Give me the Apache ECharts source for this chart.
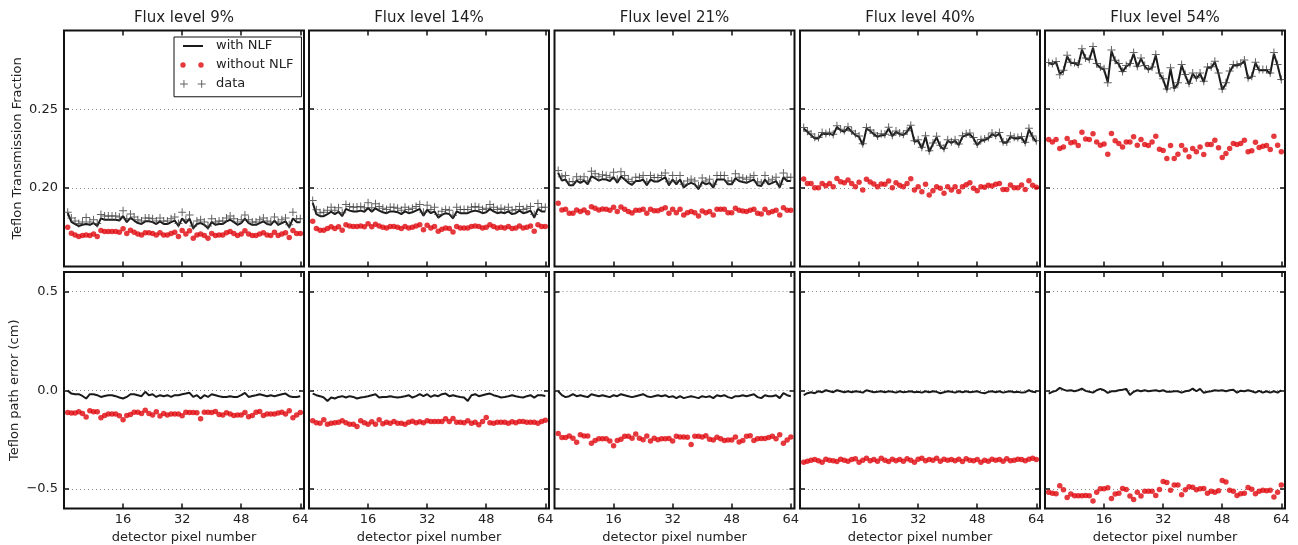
<!DOCTYPE html>
<html>
<head>
<meta charset="utf-8">
<script src="https://cdn.jsdelivr.net/npm/echarts@6/dist/echarts.min.js"></script>
<style>
html,body{margin:0;padding:0;background:#fff;}
#chart{width:1298px;height:545px;}
</style>
</head>
<body>
<div id="chart"></div>
<script>
// Column titles and tick positions
const fluxTitles = ['Flux level 9%', 'Flux level 14%', 'Flux level 21%', 'Flux level 40%', 'Flux level 54%'];
const pixelTicks = [16, 32, 48, 64];
const transTicks = [0.20, 0.25];
const errTicks = [-0.5, 0, 0.5];

// Teflon transmission fraction per detector pixel (pixels 1..64)
const transWithNLF9 = [0.1840,0.1784,0.1770,0.1757,0.1765,0.1770,0.1765,0.1776,0.1757,0.1806,
  0.1797,0.1797,0.1797,0.1797,0.1792,0.1821,0.1782,0.1809,0.1792,0.1776,
  0.1770,0.1787,0.1787,0.1782,0.1770,0.1787,0.1770,0.1770,0.1782,0.1792,
  0.1757,0.1806,0.1776,0.1804,0.1743,0.1770,0.1776,0.1765,0.1743,0.1782,
  0.1765,0.1770,0.1770,0.1787,0.1797,0.1782,0.1765,0.1776,0.1804,0.1776,
  0.1765,0.1765,0.1776,0.1787,0.1770,0.1765,0.1792,0.1765,0.1776,0.1787,
  0.1749,0.1806,0.1782,0.1782];
const transWithoutNLF9 = [0.1750,0.1712,0.1701,0.1691,0.1697,0.1701,0.1697,0.1706,0.1691,0.1729,
  0.1722,0.1722,0.1722,0.1722,0.1718,0.1740,0.1710,0.1731,0.1718,0.1706,
  0.1701,0.1714,0.1714,0.1710,0.1701,0.1714,0.1701,0.1701,0.1710,0.1718,
  0.1691,0.1729,0.1706,0.1727,0.1680,0.1701,0.1706,0.1697,0.1680,0.1710,
  0.1697,0.1701,0.1701,0.1714,0.1722,0.1710,0.1697,0.1706,0.1727,0.1706,
  0.1697,0.1697,0.1706,0.1714,0.1701,0.1697,0.1718,0.1697,0.1706,0.1714,
  0.1685,0.1729,0.1710,0.1710];
const transData9 = [0.1845,0.1808,0.1789,0.1774,0.1783,0.1812,0.1783,0.1797,0.1774,0.1831,
  0.1821,0.1821,0.1821,0.1821,0.1815,0.1855,0.1803,0.1834,0.1815,0.1797,
  0.1789,0.1809,0.1809,0.1803,0.1789,0.1809,0.1789,0.1789,0.1803,0.1815,
  0.1774,0.1845,0.1797,0.1828,0.1758,0.1789,0.1797,0.1783,0.1758,0.1803,
  0.1783,0.1789,0.1789,0.1809,0.1821,0.1803,0.1783,0.1797,0.1828,0.1797,
  0.1783,0.1783,0.1797,0.1809,0.1789,0.1783,0.1815,0.1783,0.1797,0.1809,
  0.1765,0.1845,0.1803,0.1803];

const transWithNLF14 = [0.1905,0.1833,0.1820,0.1820,0.1833,0.1848,0.1833,0.1848,0.1820,0.1866,
  0.1855,0.1850,0.1850,0.1855,0.1848,0.1872,0.1848,0.1870,0.1855,0.1845,
  0.1839,0.1850,0.1850,0.1845,0.1833,0.1850,0.1839,0.1845,0.1855,0.1866,
  0.1823,0.1861,0.1839,0.1850,0.1811,0.1828,0.1839,0.1833,0.1806,0.1850,
  0.1839,0.1839,0.1839,0.1850,0.1855,0.1850,0.1839,0.1845,0.1866,0.1850,
  0.1839,0.1845,0.1839,0.1850,0.1833,0.1839,0.1855,0.1839,0.1845,0.1855,
  0.1811,0.1866,0.1850,0.1850];
const transWithoutNLF14 = [0.1788,0.1741,0.1731,0.1731,0.1741,0.1752,0.1741,0.1752,0.1731,0.1766,
  0.1758,0.1754,0.1754,0.1758,0.1752,0.1771,0.1752,0.1769,0.1758,0.1750,
  0.1745,0.1754,0.1754,0.1750,0.1741,0.1754,0.1745,0.1750,0.1758,0.1766,
  0.1733,0.1762,0.1745,0.1754,0.1724,0.1737,0.1745,0.1741,0.1720,0.1754,
  0.1745,0.1745,0.1745,0.1754,0.1758,0.1754,0.1745,0.1750,0.1766,0.1754,
  0.1745,0.1750,0.1745,0.1754,0.1741,0.1745,0.1758,0.1745,0.1750,0.1758,
  0.1724,0.1766,0.1754,0.1754];
const transData14 = [0.1920,0.1860,0.1842,0.1845,0.1857,0.1876,0.1857,0.1873,0.1842,0.1894,
  0.1882,0.1876,0.1878,0.1882,0.1873,0.1905,0.1873,0.1899,0.1882,0.1870,
  0.1863,0.1876,0.1876,0.1870,0.1857,0.1876,0.1863,0.1870,0.1882,0.1894,
  0.1845,0.1890,0.1863,0.1876,0.1831,0.1851,0.1863,0.1857,0.1825,0.1876,
  0.1863,0.1863,0.1863,0.1876,0.1882,0.1876,0.1863,0.1870,0.1894,0.1876,
  0.1863,0.1870,0.1863,0.1876,0.1857,0.1863,0.1882,0.1863,0.1870,0.1882,
  0.1831,0.1900,0.1876,0.1876];

const transWithNLF21 = [0.2095,0.2046,0.2053,0.2016,0.2016,0.2046,0.2032,0.2046,0.2022,0.2075,
  0.2061,0.2046,0.2055,0.2053,0.2043,0.2069,0.2032,0.2072,0.2053,0.2032,
  0.2019,0.2043,0.2043,0.2053,0.2016,0.2053,0.2040,0.2040,0.2053,0.2067,
  0.2016,0.2053,0.2022,0.2053,0.2002,0.2022,0.2032,0.2022,0.1992,0.2037,
  0.2022,0.2032,0.2002,0.2053,0.2053,0.2053,0.2022,0.2022,0.2061,0.2043,
  0.2037,0.2032,0.2043,0.2053,0.2016,0.2011,0.2053,0.2022,0.2032,0.2043,
  0.2002,0.2067,0.2043,0.2043];
const transWithoutNLF21 = [0.1902,0.1859,0.1864,0.1838,0.1838,0.1859,0.1849,0.1859,0.1842,0.1880,
  0.1870,0.1859,0.1866,0.1864,0.1857,0.1876,0.1849,0.1878,0.1864,0.1849,
  0.1840,0.1857,0.1857,0.1864,0.1838,0.1864,0.1855,0.1855,0.1864,0.1874,
  0.1838,0.1864,0.1842,0.1864,0.1828,0.1842,0.1849,0.1842,0.1821,0.1853,
  0.1842,0.1849,0.1828,0.1864,0.1864,0.1864,0.1842,0.1842,0.1870,0.1857,
  0.1853,0.1849,0.1857,0.1864,0.1838,0.1834,0.1864,0.1842,0.1849,0.1857,
  0.1828,0.1874,0.1857,0.1857];
const transData21 = [0.2110,0.2071,0.2079,0.2038,0.2040,0.2071,0.2055,0.2071,0.2044,0.2105,
  0.2089,0.2071,0.2083,0.2079,0.2068,0.2099,0.2055,0.2102,0.2079,0.2055,
  0.2041,0.2068,0.2068,0.2079,0.2038,0.2079,0.2065,0.2065,0.2079,0.2095,
  0.2038,0.2079,0.2044,0.2079,0.2022,0.2044,0.2055,0.2044,0.2011,0.2062,
  0.2044,0.2055,0.2022,0.2079,0.2079,0.2079,0.2044,0.2044,0.2089,0.2068,
  0.2062,0.2055,0.2068,0.2079,0.2038,0.2031,0.2079,0.2044,0.2055,0.2068,
  0.2022,0.2095,0.2068,0.2068];

const transWithNLF40 = [0.2377,0.2356,0.2335,0.2314,0.2314,0.2345,0.2341,0.2345,0.2335,0.2387,
  0.2366,0.2356,0.2383,0.2356,0.2335,0.2324,0.2271,0.2377,0.2362,0.2341,
  0.2324,0.2335,0.2335,0.2377,0.2328,0.2356,0.2341,0.2335,0.2356,0.2392,
  0.2292,0.2299,0.2250,0.2324,0.2229,0.2278,0.2320,0.2264,0.2244,0.2299,
  0.2286,0.2299,0.2271,0.2324,0.2335,0.2341,0.2314,0.2271,0.2299,0.2303,
  0.2314,0.2341,0.2328,0.2345,0.2286,0.2286,0.2324,0.2314,0.2314,0.2320,
  0.2282,0.2371,0.2324,0.2292];
const transWithoutNLF40 = [0.2056,0.2028,0.2028,0.2001,0.2001,0.2028,0.2014,0.2028,0.2007,0.2060,
  0.2039,0.2033,0.2049,0.2028,0.2007,0.2035,0.1986,0.2054,0.2037,0.2024,
  0.2007,0.2024,0.2022,0.2043,0.2001,0.2033,0.2016,0.2007,0.2028,0.2058,
  0.1986,0.2007,0.1975,0.2022,0.1954,0.1982,0.2007,0.1997,0.1965,0.2007,
  0.1986,0.2007,0.1977,0.2007,0.2020,0.2033,0.1997,0.1982,0.2007,0.2003,
  0.2016,0.2012,0.2022,0.2028,0.1990,0.1990,0.2018,0.2001,0.2001,0.2018,
  0.1990,0.2045,0.2016,0.2003];
const transData40 = [0.2384,0.2360,0.2342,0.2322,0.2320,0.2352,0.2346,0.2353,0.2340,0.2395,
  0.2372,0.2364,0.2388,0.2362,0.2344,0.2330,0.2280,0.2384,0.2368,0.2348,
  0.2330,0.2343,0.2340,0.2385,0.2335,0.2362,0.2349,0.2341,0.2363,0.2398,
  0.2300,0.2306,0.2258,0.2331,0.2236,0.2285,0.2328,0.2270,0.2252,0.2306,
  0.2293,0.2306,0.2278,0.2331,0.2343,0.2348,0.2320,0.2279,0.2307,0.2310,
  0.2320,0.2349,0.2335,0.2352,0.2293,0.2292,0.2331,0.2321,0.2320,0.2327,
  0.2290,0.2379,0.2330,0.2300];

const transWithNLF54 = [0.2793,0.2785,0.2799,0.2725,0.2742,0.2835,0.2793,0.2793,0.2778,0.2878,
  0.2821,0.2814,0.2890,0.2785,0.2763,0.2751,0.2672,0.2869,0.2806,0.2785,
  0.2736,0.2772,0.2785,0.2852,0.2767,0.2821,0.2772,0.2751,0.2763,0.2842,
  0.2725,0.2688,0.2620,0.2757,0.2630,0.2662,0.2778,0.2715,0.2658,0.2725,
  0.2694,0.2725,0.2672,0.2763,0.2763,0.2799,0.2725,0.2624,0.2662,0.2736,
  0.2778,0.2778,0.2785,0.2806,0.2694,0.2704,0.2793,0.2747,0.2747,0.2747,
  0.2725,0.2852,0.2778,0.2683];
const transWithoutNLF54 = [0.2307,0.2292,0.2307,0.2250,0.2260,0.2313,0.2286,0.2292,0.2269,0.2354,
  0.2311,0.2307,0.2343,0.2292,0.2271,0.2278,0.2214,0.2345,0.2299,0.2282,
  0.2260,0.2292,0.2292,0.2324,0.2271,0.2307,0.2276,0.2269,0.2292,0.2328,
  0.2246,0.2238,0.2187,0.2269,0.2187,0.2214,0.2269,0.2240,0.2197,0.2250,
  0.2229,0.2260,0.2212,0.2276,0.2276,0.2303,0.2254,0.2193,0.2218,0.2250,
  0.2282,0.2276,0.2282,0.2303,0.2229,0.2235,0.2290,0.2257,0.2265,0.2269,
  0.2244,0.2328,0.2271,0.2229];
const transData54 = [0.2797,0.2790,0.2803,0.2718,0.2748,0.2842,0.2798,0.2796,0.2785,0.2884,
  0.2826,0.2818,0.2898,0.2790,0.2768,0.2757,0.2668,0.2876,0.2811,0.2790,
  0.2740,0.2778,0.2790,0.2860,0.2772,0.2826,0.2778,0.2756,0.2768,0.2848,
  0.2730,0.2693,0.2628,0.2764,0.2636,0.2668,0.2784,0.2720,0.2664,0.2730,
  0.2700,0.2730,0.2678,0.2768,0.2770,0.2804,0.2730,0.2628,0.2668,0.2742,
  0.2784,0.2784,0.2790,0.2812,0.2700,0.2710,0.2798,0.2752,0.2752,0.2752,
  0.2730,0.2860,0.2784,0.2688];

// Teflon path error in cm per detector pixel (pixels 1..64)
const errWithNLF9 = [-0.002,-0.017,-0.020,-0.020,-0.029,-0.042,-0.020,-0.020,-0.025,-0.034,
  -0.029,-0.025,-0.025,-0.030,-0.037,-0.042,-0.034,-0.020,-0.020,-0.025,
  -0.030,-0.008,-0.025,-0.020,-0.034,-0.025,-0.030,-0.025,-0.034,-0.025,
  -0.025,-0.020,-0.017,-0.013,-0.034,-0.025,-0.042,-0.025,-0.034,-0.020,
  -0.025,-0.030,-0.034,-0.034,-0.030,-0.034,-0.034,-0.025,-0.013,-0.034,
  -0.029,-0.025,-0.020,-0.025,-0.030,-0.025,-0.030,-0.025,-0.020,-0.017,
  -0.030,-0.034,-0.034,-0.030];
const errWithoutNLF9 = [-0.113,-0.116,-0.116,-0.109,-0.118,-0.136,-0.104,-0.109,-0.109,-0.140,
  -0.128,-0.121,-0.121,-0.121,-0.130,-0.150,-0.128,-0.123,-0.111,-0.111,
  -0.118,-0.101,-0.118,-0.125,-0.109,-0.131,-0.118,-0.125,-0.121,-0.121,
  -0.120,-0.130,-0.111,-0.113,-0.113,-0.114,-0.145,-0.111,-0.111,-0.113,
  -0.108,-0.123,-0.126,-0.114,-0.121,-0.128,-0.126,-0.126,-0.113,-0.135,
  -0.128,-0.111,-0.108,-0.128,-0.121,-0.120,-0.120,-0.116,-0.111,-0.121,
  -0.104,-0.140,-0.126,-0.113];

const errWithNLF14 = [-0.017,-0.025,-0.030,-0.037,-0.054,-0.037,-0.042,-0.034,-0.030,-0.037,
  -0.030,-0.034,-0.042,-0.037,-0.034,-0.030,-0.025,-0.020,-0.037,-0.034,
  -0.034,-0.030,-0.034,-0.037,-0.034,-0.030,-0.025,-0.037,-0.030,-0.020,
  -0.030,-0.020,-0.034,-0.025,-0.030,-0.020,-0.017,-0.030,-0.025,-0.030,
  -0.034,-0.037,-0.054,-0.025,-0.020,-0.030,-0.025,-0.020,-0.017,-0.025,
  -0.030,-0.037,-0.034,-0.030,-0.025,-0.030,-0.034,-0.037,-0.030,-0.025,
  -0.037,-0.025,-0.025,-0.029];
const errWithoutNLF14 = [-0.155,-0.165,-0.168,-0.150,-0.173,-0.168,-0.165,-0.162,-0.155,-0.165,
  -0.172,-0.173,-0.184,-0.155,-0.165,-0.173,-0.160,-0.173,-0.150,-0.170,
  -0.162,-0.168,-0.158,-0.168,-0.168,-0.173,-0.162,-0.157,-0.165,-0.160,
  -0.165,-0.155,-0.158,-0.158,-0.158,-0.158,-0.145,-0.158,-0.143,-0.162,
  -0.162,-0.165,-0.155,-0.168,-0.162,-0.175,-0.158,-0.138,-0.165,-0.168,
  -0.163,-0.162,-0.163,-0.168,-0.160,-0.165,-0.158,-0.158,-0.162,-0.162,
  -0.163,-0.168,-0.158,-0.152];

const errWithNLF21 = [-0.005,-0.025,-0.035,-0.030,-0.020,-0.030,-0.025,-0.030,-0.035,-0.020,
  -0.025,-0.030,-0.025,-0.030,-0.035,-0.025,-0.030,-0.020,-0.025,-0.030,
  -0.035,-0.030,-0.025,-0.020,-0.030,-0.035,-0.030,-0.025,-0.030,-0.025,
  -0.035,-0.030,-0.040,-0.030,-0.040,-0.035,-0.030,-0.035,-0.040,-0.030,
  -0.035,-0.030,-0.040,-0.025,-0.030,-0.025,-0.035,-0.040,-0.030,-0.030,
  -0.025,-0.030,-0.025,-0.020,-0.035,-0.040,-0.025,-0.030,-0.030,-0.025,
  -0.040,-0.015,-0.025,-0.030];
const errWithoutNLF21 = [-0.220,-0.240,-0.240,-0.232,-0.243,-0.264,-0.226,-0.232,-0.232,-0.269,
  -0.255,-0.246,-0.246,-0.246,-0.257,-0.281,-0.255,-0.249,-0.234,-0.234,
  -0.243,-0.222,-0.243,-0.251,-0.232,-0.258,-0.243,-0.251,-0.246,-0.246,
  -0.245,-0.257,-0.234,-0.237,-0.237,-0.238,-0.275,-0.234,-0.234,-0.237,
  -0.231,-0.249,-0.252,-0.238,-0.246,-0.255,-0.252,-0.252,-0.237,-0.263,
  -0.255,-0.234,-0.231,-0.255,-0.246,-0.245,-0.245,-0.240,-0.234,-0.246,
  -0.226,-0.269,-0.252,-0.237];

const errWithNLF40 = [-0.025,-0.015,-0.010,-0.015,-0.005,-0.010,0.000,-0.005,-0.010,0.000,
  -0.005,-0.010,-0.005,-0.010,-0.005,-0.008,-0.012,0.000,-0.005,-0.010,
  -0.008,-0.005,-0.010,-0.005,-0.008,-0.012,-0.005,-0.010,-0.008,-0.005,
  -0.010,-0.008,-0.012,-0.005,-0.010,-0.005,-0.008,-0.015,-0.010,-0.005,
  -0.008,-0.012,-0.005,-0.010,-0.005,-0.010,-0.008,-0.005,-0.012,-0.015,
  -0.008,-0.005,-0.010,-0.005,-0.012,-0.008,-0.005,-0.010,-0.008,-0.012,
  -0.010,0.000,-0.008,-0.010];
const errWithoutNLF40 = [-0.365,-0.360,-0.355,-0.352,-0.358,-0.365,-0.350,-0.355,-0.358,-0.362,
  -0.350,-0.355,-0.360,-0.352,-0.348,-0.365,-0.355,-0.345,-0.358,-0.352,
  -0.360,-0.345,-0.355,-0.362,-0.350,-0.358,-0.352,-0.360,-0.348,-0.355,
  -0.365,-0.350,-0.345,-0.358,-0.352,-0.355,-0.345,-0.360,-0.350,-0.355,
  -0.352,-0.358,-0.350,-0.362,-0.348,-0.355,-0.358,-0.352,-0.365,-0.355,
  -0.360,-0.350,-0.355,-0.352,-0.360,-0.348,-0.358,-0.355,-0.350,-0.352,
  -0.358,-0.350,-0.345,-0.352];

const errWithNLF54 = [-0.017,-0.008,-0.003,0.012,0.003,-0.003,0.000,-0.005,0.000,0.008,
  -0.003,-0.008,-0.012,0.000,0.007,0.000,-0.013,-0.005,-0.005,0.000,
  0.003,0.007,-0.024,-0.008,0.000,-0.005,0.000,-0.005,-0.002,0.000,
  -0.005,0.000,-0.008,-0.008,-0.005,-0.005,-0.012,-0.005,-0.003,0.008,
  -0.005,0.007,-0.013,-0.008,-0.005,0.000,-0.003,0.000,-0.005,0.000,
  0.003,-0.012,-0.002,-0.005,0.000,-0.005,-0.012,-0.003,-0.012,-0.005,
  -0.012,-0.005,-0.012,0.000];
const errWithoutNLF54 = [-0.517,-0.522,-0.525,-0.485,-0.505,-0.544,-0.527,-0.535,-0.535,-0.535,
  -0.534,-0.535,-0.562,-0.517,-0.500,-0.500,-0.495,-0.549,-0.527,-0.522,
  -0.498,-0.503,-0.537,-0.554,-0.517,-0.537,-0.513,-0.513,-0.512,-0.534,
  -0.503,-0.463,-0.468,-0.508,-0.481,-0.481,-0.530,-0.505,-0.490,-0.492,
  -0.505,-0.500,-0.498,-0.522,-0.513,-0.518,-0.510,-0.458,-0.466,-0.508,
  -0.513,-0.534,-0.525,-0.522,-0.493,-0.502,-0.525,-0.513,-0.508,-0.510,
  -0.508,-0.542,-0.518,-0.481];

const panels = [
  { trans: [transWithNLF9, transWithoutNLF9, transData9], err: [errWithNLF9, errWithoutNLF9] },
  { trans: [transWithNLF14, transWithoutNLF14, transData14], err: [errWithNLF14, errWithoutNLF14] },
  { trans: [transWithNLF21, transWithoutNLF21, transData21], err: [errWithNLF21, errWithoutNLF21] },
  { trans: [transWithNLF40, transWithoutNLF40, transData40], err: [errWithNLF40, errWithoutNLF40] },
  { trans: [transWithNLF54, transWithoutNLF54, transData54], err: [errWithNLF54, errWithoutNLF54] }
];

const FONT = 'DejaVu Sans';
const INK = '#1a1a1a';
const RED = '#e0080e';
const PLUS_COLOR = '#3c3c3c';
const PLUS = 'path://M0,3.5h8v1h-8z M3.5,0h1v8h-1z';
const colLeft = [64, 309, 554.5, 800, 1045];
const colWidth = 240;
const rows = [{ top: 30.5, height: 236 }, { top: 272, height: 236.5 }];

function pts(values) { return values.map((v, i) => [i + 1, v]); }
function minus(s) { return s.replace('-', '\u2212'); }

const grid = [], xAxis = [], yAxis = [], series = [], title = [];
const tickStyle = { color: '#111', width: 1.5 };
const labelStyle = { fontSize: 13, fontFamily: FONT, color: '#222' };

fluxTitles.forEach((t, c) => {
  title.push({
    text: t, left: colLeft[c] + colWidth / 2, top: 10.5, textAlign: 'center', padding: 0,
    textStyle: { fontSize: 15, fontWeight: 'normal', fontFamily: FONT, color: '#1e1e1e' }
  });
});

rows.forEach((r, row) => {
  for (let c = 0; c < 5; c++) {
    const g = grid.length;
    grid.push({
      left: colLeft[c], top: r.top, width: colWidth, height: r.height,
      show: true, borderColor: '#111', borderWidth: 2, backgroundColor: 'transparent',
      containLabel: false, outerBoundsMode: 'none'
    });
    // bottom and mirrored top x axes, pinned to the frame edges
    xAxis.push({
      gridIndex: g, type: 'value', min: 0, max: 65, position: 'bottom',
      axisLine: { show: false, onZero: false },
      axisTick: { show: true, inside: true, length: 5, customValues: pixelTicks, lineStyle: tickStyle },
      axisLabel: Object.assign({ show: row === 1, customValues: pixelTicks, margin: 5 }, labelStyle),
      splitLine: { show: false },
      name: row === 1 ? 'detector pixel number' : '', nameLocation: 'middle', nameGap: 23,
      nameTextStyle: labelStyle
    });
    xAxis.push({
      gridIndex: g, type: 'value', min: 0, max: 65, position: 'top',
      axisLine: { show: false, onZero: false },
      axisTick: { show: true, inside: true, length: 5, customValues: pixelTicks, lineStyle: tickStyle },
      axisLabel: { show: false }, splitLine: { show: false }
    });
    const yt = row === 0 ? transTicks : errTicks;
    const yr = row === 0 ? [0.15, 0.30] : [-0.6, 0.6];
    yAxis.push({
      gridIndex: g, type: 'value', min: yr[0], max: yr[1], position: 'left',
      axisLine: { show: false, onZero: false },
      axisTick: { show: true, inside: true, length: 5, customValues: yt, lineStyle: tickStyle },
      axisLabel: Object.assign({
        show: c === 0, customValues: yt, margin: 6,
        formatter: v => minus(row === 0 ? v.toFixed(2) : v.toFixed(1))
      }, labelStyle),
      splitLine: { show: true, lineStyle: { type: [1, 3], color: '#8a8a8a', width: 1 } },
      name: c === 0 ? (row === 0 ? 'Teflon Transmission Fraction' : 'Teflon path error (cm)') : '',
      nameLocation: 'middle', nameGap: row === 0 ? 40 : 43, nameTextStyle: labelStyle
    });
    yAxis.push({
      gridIndex: g, type: 'value', min: yr[0], max: yr[1], position: 'right',
      axisLine: { show: false, onZero: false },
      axisTick: { show: true, inside: true, length: 5, customValues: yt, lineStyle: tickStyle },
      axisLabel: { show: false }, splitLine: { show: false }
    });

    const p = panels[c];
    const vals = row === 0 ? p.trans : p.err;
    const ax = { xAxisIndex: 2 * g, yAxisIndex: 2 * g };
    series.push(Object.assign({
      type: 'line', name: 'with NLF', data: pts(vals[0]), symbol: 'none', showSymbol: false,
      lineStyle: { color: INK, width: 2 }, itemStyle: { color: INK }, z: 3
    }, ax));
    series.push(Object.assign({
      type: 'scatter', name: 'without NLF', data: pts(vals[1]), symbol: 'circle', symbolSize: 5.5,
      itemStyle: { color: RED }, z: 4
    }, ax));
    if (row === 0) {
      series.push(Object.assign({
        type: 'scatter', name: 'data', data: pts(vals[2]), symbol: PLUS, symbolSize: 8,
        itemStyle: { color: PLUS_COLOR }, z: 5
      }, ax));
    }
  }
});

// legend icons: corner anchors keep the drawing at 1:1 in a 31x14 box
const ANCHORS = 'M0,0h0.01v0.01h-0.01z M30.99,13.99h0.01v0.01h-0.01z ';
const ICON_LINE = 'path://' + ANCHORS + 'M3,6h20v2h-20z';
const ICON_DOTS = 'path://' + ANCHORS + 'M0.3,7a2.7,2.7 0 1,0 5.4,0a2.7,2.7 0 1,0 -5.4,0z M18.3,7a2.7,2.7 0 1,0 5.4,0a2.7,2.7 0 1,0 -5.4,0z';
const ICON_PLUS = 'path://' + ANCHORS + 'M-0.5,6.5h8v1h-8z M3,3h1v8h-1z M17.5,6.5h8v1h-8z M21,3h1v8h-1z';

const chart = echarts.init(document.getElementById('chart'), null, { renderer: 'canvas' });
chart.setOption({
  animation: false,
  backgroundColor: '#fff',
  title: title,
  legend: {
    orient: 'vertical', left: 174, top: 37, padding: [2, 8, 6, 6], itemGap: 5,
    itemWidth: 31, itemHeight: 14, backgroundColor: '#fff', borderColor: '#111', borderWidth: 1,
    borderRadius: 0, selectedMode: false, z: 20,
    itemStyle: { borderWidth: 0 },
    textStyle: labelStyle,
    data: [
      { name: 'with NLF', icon: ICON_LINE },
      { name: 'without NLF', icon: ICON_DOTS },
      { name: 'data', icon: ICON_PLUS }
    ]
  },
  grid: grid, xAxis: xAxis, yAxis: yAxis, series: series
});
</script>
</body>
</html>
